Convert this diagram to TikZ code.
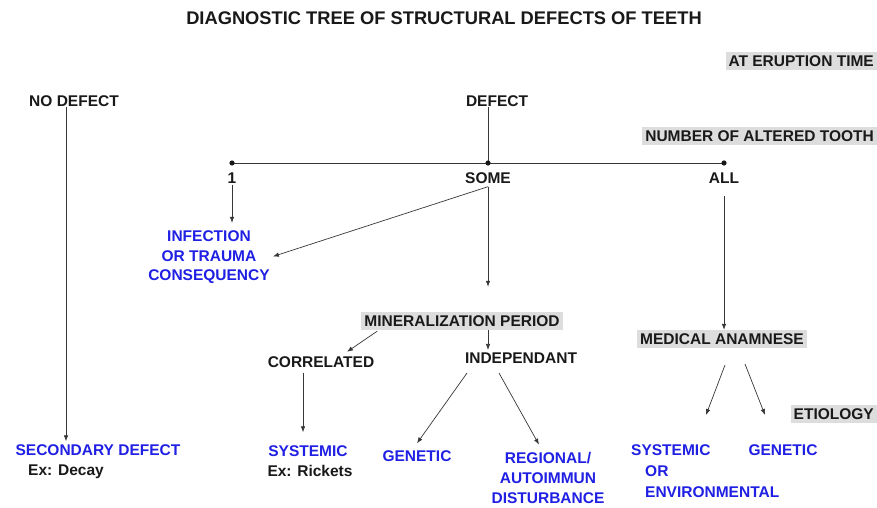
\documentclass[tikz,border=0pt]{standalone}
\usepackage{fontspec}
\setmainfont{Liberation Sans}
\usetikzlibrary{arrows.meta,calc}
\definecolor{lblue}{RGB}{32,32,228}
\definecolor{boxg}{RGB}{221,221,221}
\definecolor{lngray}{RGB}{55,55,55}
\definecolor{txt}{RGB}{25,25,25}
\begin{document}
\begin{tikzpicture}[x=1pt,y=-1pt,
  every node/.style={font=\fontsize{15.5}{19.5}\selectfont\bfseries, inner sep=0pt, text=txt},
  bluelab/.style={text=lblue, align=center},
  gbox/.style={fill=boxg, inner xsep=3pt, inner ysep=3.5pt},
  arr/.style={draw=lngray, line width=0.7pt, -{Latex[length=6pt,width=4.5pt]}},
  plain/.style={draw=lngray, line width=0.7pt}]
\useasboundingbox (0,0) rectangle (877,508);
\fill[white] (0,0) rectangle (877,508);

% title
\node (title) at (444,18) {\fontsize{18.3}{22}\selectfont DIAGNOSTIC TREE OF STRUCTURAL DEFECTS OF TEETH};

% side labels
\node[gbox, anchor=east] (erupt) at (877,61) {AT ERUPTION TIME};
\node[gbox, anchor=east] (number) at (877,136) {NUMBER OF ALTERED TOOTH};
\node[gbox] (mineral) at (462,321) {MINERALIZATION PERIOD};
\node[gbox] (medical) at (722,339) {MEDICAL ANAMNESE};
\node[gbox, anchor=east] (etio) at (877,414) {ETIOLOGY};

% main nodes
\node (nodefect) at (74,101) {NO DEFECT};
\node (defect) at (497,101) {DEFECT};
\node (one) at (232,178) {1};
\node (some) at (488,178) {SOME};
\node (all) at (724,178) {ALL};

\coordinate (d1) at (232,163);
\coordinate (dsome) at (488,163);
\coordinate (dall) at (724,163);

\node[bluelab] (infect) at (209,257.5) {INFECTION\\OR TRAUMA\\CONSEQUENCY};
\node (corr) at (321,362) {CORRELATED};
\node (indep) at (521,358) {INDEPENDANT};
\node[bluelab] (sys1) at (308,451) {SYSTEMIC};
\node (rickets) at (310,471) {Ex: Rickets};
\node[bluelab] (gen1) at (417,456) {GENETIC};
\node[bluelab, font=\fontsize{15.5}{20}\selectfont\bfseries] (regional) at (548,478) {REGIONAL/\\AUTOIMMUN\\DISTURBANCE};
\node[bluelab] (secdef) at (98,450) {SECONDARY DEFECT};
\node (decay) at (66,472) {Ex: Decay};
\node[text=lblue, align=left, anchor=north west, font=\fontsize{15.5}{21}\selectfont\bfseries] (sys2) at (631,444.5) {SYSTEMIC\\\hspace*{14pt}OR\\\hspace*{14pt}ENVIRONMENTAL};
\node[bluelab] (gen2) at (783,450) {GENETIC};

% endpoints of free arrows
\coordinate (m1a) at (725,365);
\coordinate (m1b) at (706,415);
\coordinate (m2a) at (745,364);
\coordinate (m2b) at (765,415);

% connectors
\draw[arr] (nodefect.south -| decay) -- ([yshift=3pt]secdef.north -| decay);
\draw[plain] (defect.south -| dsome) -- (dsome);
\draw[plain] (d1) -- (dall);
\foreach \d in {d1,dsome,dall} \fill[txt] (\d) circle (2.6);
\draw[arr] ([yshift=-1pt]one.south) -- ([yshift=8pt]infect.north -| one);
\draw[arr] ([yshift=-3pt]some.south) -- ([xshift=3pt,yshift=1pt]infect.east);
\draw[arr, shorten >=25pt] ([yshift=-3pt]some.south) -- (mineral.north -| some);
\draw[arr] ([xshift=16pt,yshift=-1pt]mineral.south west) -- ([xshift=26pt,yshift=4.5pt]corr.north);
\draw[arr] (mineral.south -| some) -- ([yshift=2.5pt]indep.north -| some);
\draw[arr] ([xshift=-18pt,yshift=-5pt]corr.south) -- ([xshift=-5pt,yshift=13pt]sys1.north);
\draw[arr] ([xshift=-54pt,yshift=-9.5pt]indep.south) -- ([yshift=7pt]gen1.north);
\draw[arr] ([xshift=-22pt,yshift=-9.5pt]indep.south) -- ([xshift=-9pt,yshift=7.5pt]regional.north);
\draw[arr, shorten <=12pt] (all.south) -- (medical.north -| all);
\draw[arr] (m1a) -- (m1b);
\draw[arr] (m2a) -- (m2b);
\end{tikzpicture}
\end{document}
